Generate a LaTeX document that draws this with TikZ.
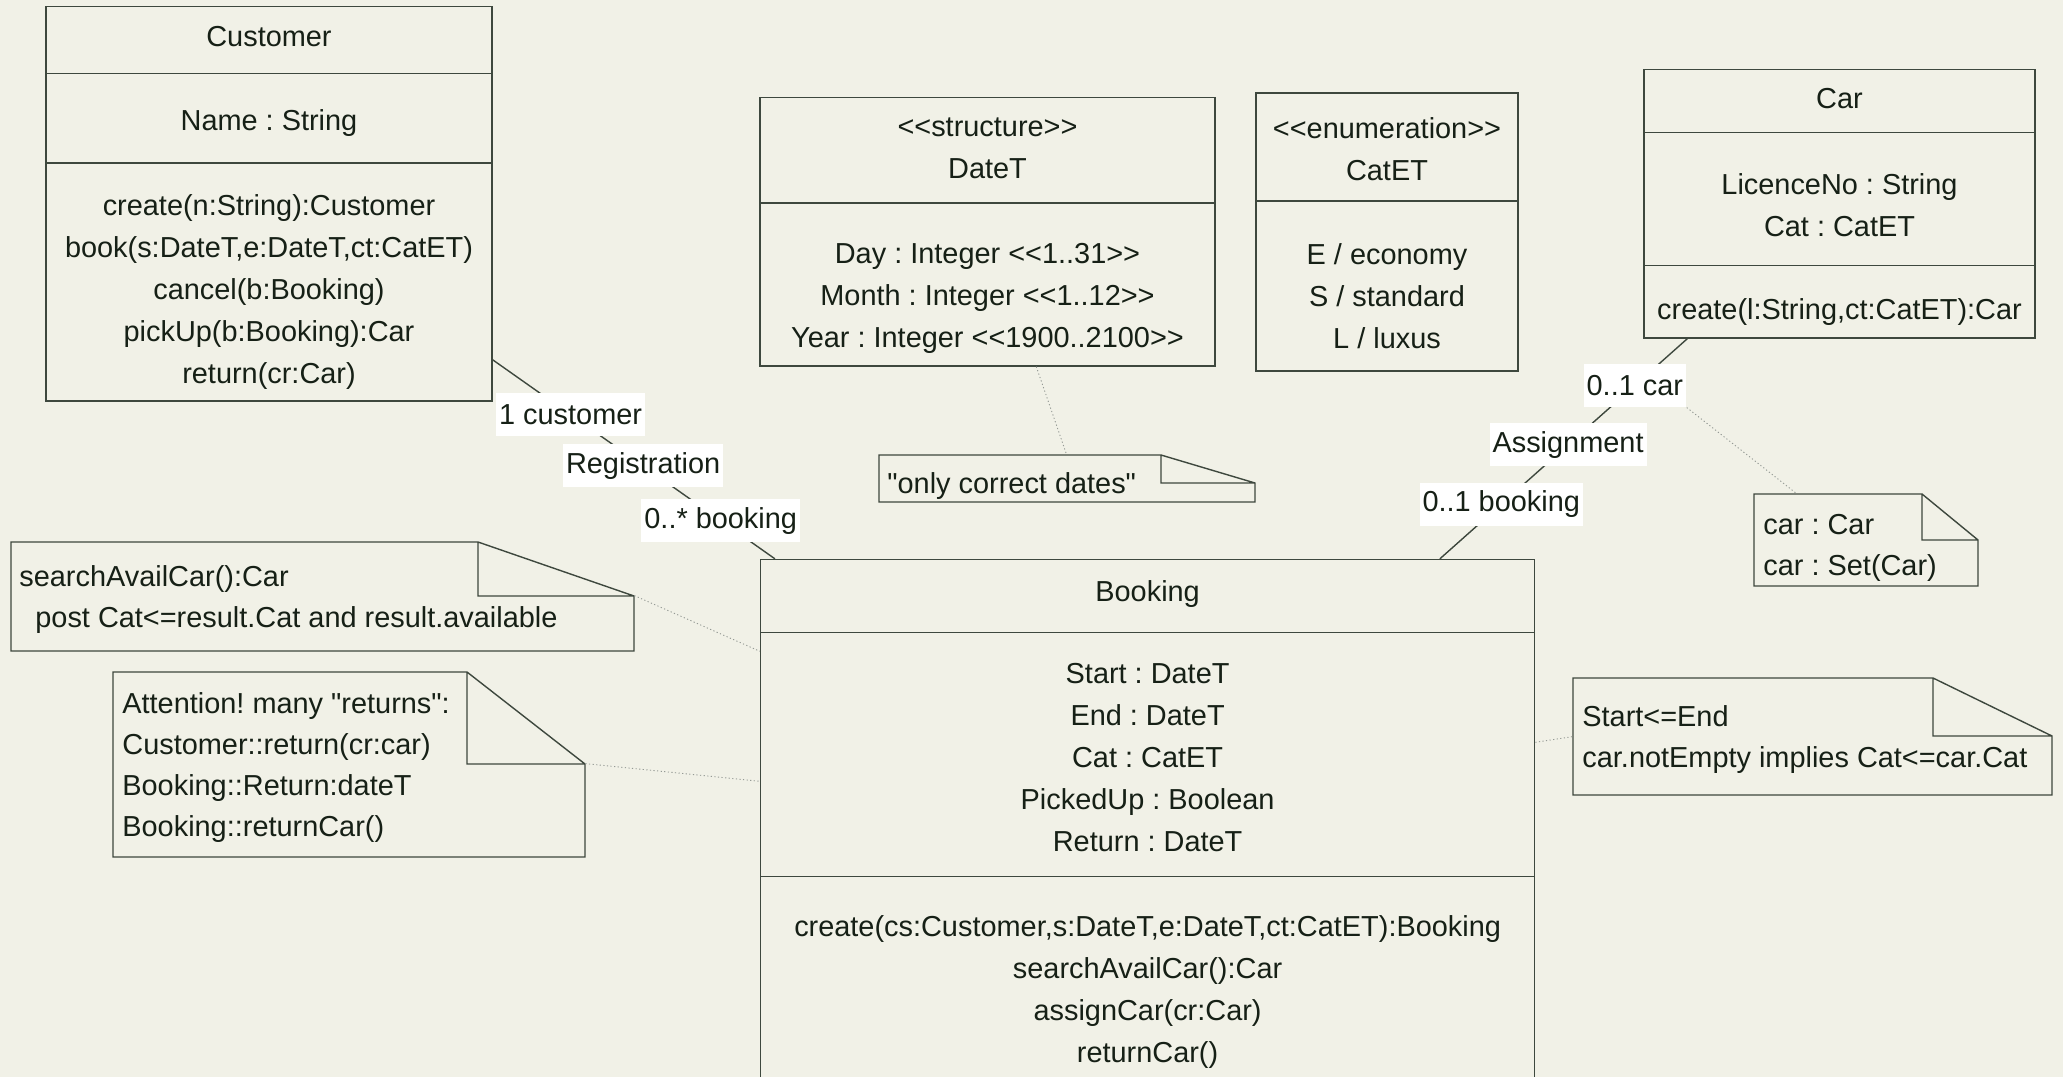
\documentclass[tikz,border=0pt]{standalone}
\usepackage{fontspec}
\newfontfamily\umlfont{Liberation Sans}
\usetikzlibrary{calc,fit}
\definecolor{paper}{RGB}{241,241,231}
\definecolor{umlline}{RGB}{62,72,62}
\definecolor{umltext}{RGB}{22,32,22}
\frenchspacing

\begin{document}
\begin{tikzpicture}[x=0.5pt,y=-0.5pt,
  classbox/.style={draw=umlline, line width=0.7pt, inner sep=0pt},
  notebox/.style={inner sep=0pt},
  umledge/.style={draw=umlline, line width=0.7pt},
  notelink/.style={draw=umlline!55, line width=0.45pt, dash pattern=on 0.6pt off 1.2pt},
  ctext/.style={anchor=north, inner sep=0pt, align=center, text=umltext,
    font=\umlfont\fontsize{14.45pt}{21pt}\selectfont\frenchspacing},
  ntext/.style={anchor=north west, inner sep=0pt, align=left, text=umltext,
    font=\umlfont\fontsize{14.45pt}{20.5pt}\selectfont\frenchspacing},
  assoc/.style={fill=white, inner xsep=1.5pt, inner ysep=0pt, minimum height=21.5pt,
    text=umltext, font=\umlfont\fontsize{14.45pt}{17pt}\selectfont\frenchspacing}]
\fill[paper] (0,0) rectangle (2063,1077);
\useasboundingbox (0,0) rectangle (2063,1077);

% classes
\node[classbox, fit={(46,6.6) (492,401)}] (cust) {};
\draw[umledge] (46,73.7) -- (492,73.7);
\draw[umledge] (46,163) -- (492,163);
\node[ctext] (custname) at (269,26) {Customer};
\node[ctext] (custattr) at (269,109) {Name : String};
\node[ctext] (custops) at (269,194) {create(n:String):Customer\\book(s:DateT,e:DateT,ct:CatET)\\cancel(b:Booking)\\pickUp(b:Booking):Car\\return(cr:Car)};

\node[classbox, fit={(760,97.7) (1215,366)}] (datet) {};
\draw[umledge] (760,203) -- (1215,203);
\node[ctext] (datetname) at (987.5,117) {<<structure>>\\DateT};
\node[ctext] (datetattr) at (987.5,243) {Day : Integer <<1..31>>\\Month : Integer <<1..12>>\\Year : Integer <<1900..2100>>};

\node[classbox, fit={(1256,93) (1518,371)}] (catet) {};
\draw[umledge] (1256,201) -- (1518,201);
\node[ctext] (catetname) at (1387,117) {<<enumeration>>\\CatET};
\node[ctext] (catetattr) at (1387,243) {E / economy\\S / standard\\L / luxus};

\node[classbox, fit={(1644,69.6) (2035,338)}] (car) {};
\draw[umledge] (1644,132.5) -- (2035,132.5);
\draw[umledge] (1644,265.7) -- (2035,265.7);
\node[ctext] (carname) at (1839.5,88) {Car};
\node[ctext] (carattr) at (1839.5,173) {LicenceNo : String\\Cat : CatET};
\node[ctext] (carops) at (1839.5,298) {create(l:String,ct:CatET):Car};

\node[classbox, fit={(760.6,559.5) (1534.6,1110)}] (booking) {};
\draw[umledge] (760.6,632.5) -- (1534.6,632.5);
\draw[umledge] (760.6,876.6) -- (1534.6,876.6);
\node[ctext] (bookname) at (1147.6,580) {Booking};
\node[ctext] (bookattr) at (1147.6,662.5) {Start : DateT\\End : DateT\\Cat : CatET\\PickedUp : Boolean\\Return : DateT};
\node[ctext] (bookops) at (1147.6,915) {create(cs:Customer,s:DateT,e:DateT,ct:CatET):Booking\\searchAvailCar():Car\\assignCar(cr:Car)\\returnCar()};

% notes
\node[notebox, fit={(879,455) (1255,502)}] (datenote) {};
\draw[umledge] (879,455) -- (1161,455) -- (1255,483) -- (1255,502) -- (879,502) -- cycle
  (1161,455) -- (1161,483) -- (1255,483);
\node[ntext] (datenotetxt) at (887,472) {"only correct dates"};

\node[notebox, fit={(1754,494) (1978,586)}] (carnote) {};
\draw[umledge] (1754,494) -- (1922,494) -- (1978,540) -- (1978,586) -- (1754,586) -- cycle
  (1922,494) -- (1922,540) -- (1978,540);
\node[ntext] (carnotetxt) at (1763,514) {car : Car\\car : Set(Car)};

\node[notebox, fit={(11,542) (634,651)}] (searchnote) {};
\draw[umledge] (11,542) -- (478,542) -- (634,596) -- (634,651) -- (11,651) -- cycle
  (478,542) -- (478,596) -- (634,596);
\node[ntext] (searchnotetxt) at (19,565) {searchAvailCar():Car\\\hspace*{8pt}post Cat<=result.Cat and result.available};

\node[notebox, fit={(113,672) (585,857)}] (attnote) {};
\draw[umledge] (113,672) -- (467,672) -- (585,764) -- (585,857) -- (113,857) -- cycle
  (467,672) -- (467,764) -- (585,764);
\node[ntext] (attnotetxt) at (122,692) {Attention! many "returns":\\Customer::return(cr:car)\\Booking::Return:dateT\\Booking::returnCar()};

\node[notebox, fit={(1573,678) (2052,795)}] (startnote) {};
\draw[umledge] (1573,678) -- (1933,678) -- (2052,736) -- (2052,795) -- (1573,795) -- cycle
  (1933,678) -- (1933,736) -- (2052,736);
\node[ntext] (startnotetxt) at (1582,705) {Start<=End\\car.notEmpty implies Cat<=car.Cat};

% associations
\draw[umledge] ($(cust.east)+(0,156)$) --
  node[assoc, pos=0.276] (custend) {1 customer}
  node[assoc, pos=0.533] (regname) {Registration}
  node[assoc, pos=0.808] (bookend1) {0..* booking}
  ($(booking.north west)+(15,0)$);
\draw[umledge] ($(car.south west)+(44,0)$) --
  node[assoc, pos=0.212] (carend) {0..1 car}
  node[assoc, pos=0.482] (assignname) {Assignment}
  node[assoc, pos=0.752] (bookend2) {0..1 booking}
  ($(booking.north west)+(680,0)$);

% note links
\draw[notelink] ($(datet.south west)+(277,0)$) -- ($(datenote.north west)+(188,0)$);
\draw[notelink] (carend.south east) -- ($(carnote.north west)+(43,0)$);
\draw[notelink] ($(searchnote.north east)+(0,54)$) -- ($(booking.north west)+(0,92.5)$);
\draw[notelink] ($(attnote.north east)+(0,92)$) -- ($(booking.north west)+(0,222.5)$);
\draw[notelink] ($(booking.north east)+(0,183.5)$) -- ($(startnote.north west)+(0,59)$);
\end{tikzpicture}
\end{document}
